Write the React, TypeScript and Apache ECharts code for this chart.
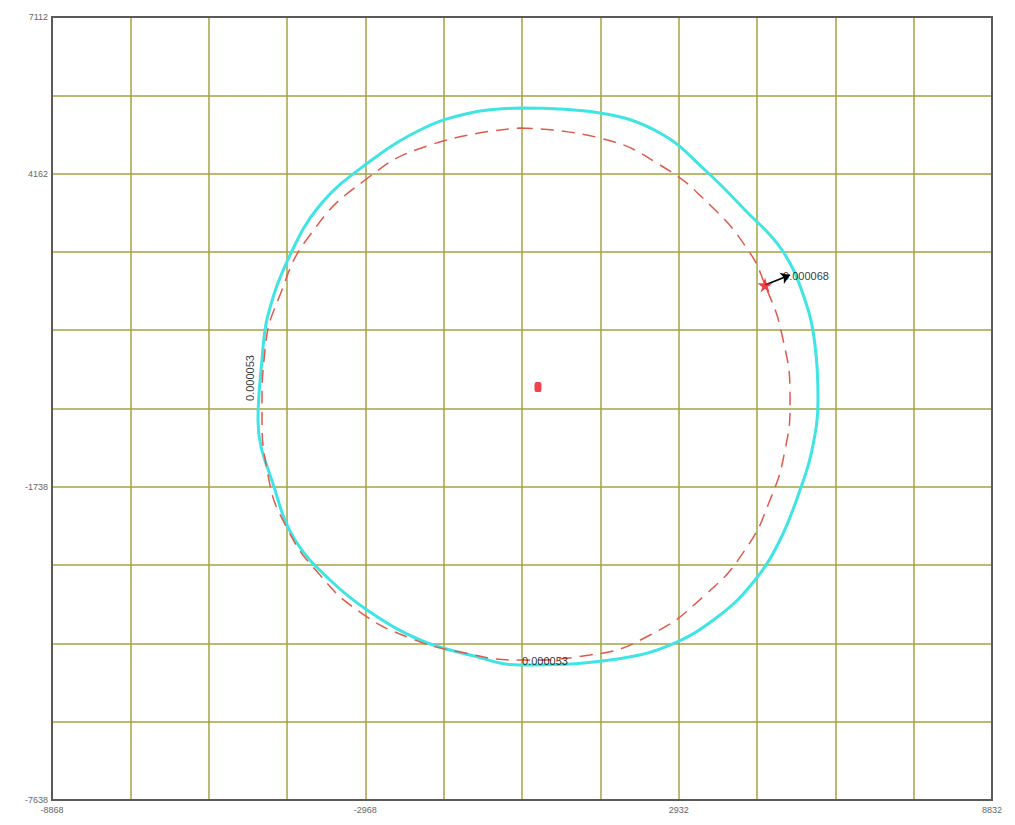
import React, { useEffect, useRef } from "react";
import * as echarts from "echarts";

const X_MIN = -8868;
const X_MAX = 8832;
const Y_MIN = -7638;
const Y_MAX = 7112;
const STEP = 1475;

// measured contour (cyan), data coordinates
const measuredX = [-55, 1451, 2581, 3428, 4181, 4878, 5311, 5499, 5556, 5443, 5217, 4840, 4370, 3711, 2769, 1639, -55, -997, -1938, -2880, -3633, -4292, -4669, -4989, -4914, -4801, -4386, -3821, -2974, -1938, -997, -55];
const measuredY = [5398, 5304, 4927, 4230, 3476, 2723, 1781, 933, -103, -1045, -1799, -2741, -3494, -4153, -4719, -5001, -5095, -4907, -4624, -4097, -3494, -2741, -1799, -480, 650, 1498, 2628, 3570, 4324, 4983, 5304, 5398];

// fitted contour (red dashed)
const fittedX = [-55, 1451, 2581, 3522, 4238, 4558, 4878, 5029, 4935, 4652, 4181, 3428, 2393, 1263, -55, -1185, -2127, -3068, -3821, -4424, -4801, -4914, -4857, -4575, -4010, -2974, -1750, -55];
const fittedY = [5021, 4832, 4324, 3570, 2723, 2063, 1121, -103, -1045, -1987, -2929, -3777, -4530, -4907, -5001, -4850, -4587, -4097, -3400, -2552, -1516, -292, 839, 1875, 3005, 4041, 4700, 5021];

const centerPoint = [283, 142];
const starPoint = [4558, 2063];
const arrowEnd = [5029, 2252];

const labelTexts = ["0.000068", "0.000053", "0.000053"];
const labelPoints = [
  [4897, 2233],
  [-5140, 311],
  [415, -5020],
];

const STAR =
  "path://M50,0 L61,35 L98,35 L68,57 L79,91 L50,70 L21,91 L32,57 L2,35 L39,35 Z";

export default function App() {
  const ref = useRef<HTMLDivElement>(null);
  useEffect(() => {
    if (!ref.current) return;
    const chart = echarts.init(ref.current, undefined, { renderer: "svg" });
    const axisLabel = {
      color: "#666666",
      fontSize: 9,
      fontFamily: "Liberation Sans",
    };
    chart.setOption({
      animation: false,
      backgroundColor: "#ffffff",
      grid: {
        left: 52,
        right: 23,
        top: 17,
        bottom: 25,
      },
      graphic: [
        {
          type: "rect",
          z: 100,
          shape: { x: 52, y: 17, width: 940, height: 783 },
          style: { fill: "none", stroke: "#5a5a5a", lineWidth: 2 },
          silent: true,
        },
      ],
      xAxis: {
        type: "value",
        min: X_MIN,
        max: X_MAX,
        interval: STEP,
        axisLine: { show: false, onZero: false },
        axisTick: { show: false },
        splitLine: { show: true, lineStyle: { color: "#a3a345", width: 1.5 } },
        axisLabel: {
          ...axisLabel,
          margin: 5,
          formatter: (v: number) => {
            const k = Math.round((v - X_MIN) / STEP);
            return k % 4 === 0 ? String(Math.round(v)) : "";
          },
        },
      },
      yAxis: {
        type: "value",
        min: Y_MIN,
        max: Y_MAX,
        interval: STEP,
        axisLine: { show: false, onZero: false },
        axisTick: { show: false },
        splitLine: { show: true, lineStyle: { color: "#a3a345", width: 1.5 } },
        axisLabel: {
          ...axisLabel,
          margin: 4,
          formatter: (v: number) => {
            const k = Math.round((v - Y_MIN) / STEP);
            return k % 4 === 0 || k === 10 ? String(Math.round(v)) : "";
          },
        },
      },
      series: [
        {
          type: "line",
          name: "fitted",
          data: fittedX.map((x, i) => [x, fittedY[i]]),
          showSymbol: false,
          smooth: 0.5,
          lineStyle: { color: "#e05a4a", width: 1.5, type: [13, 8] },
          z: 3,
        },
        {
          type: "line",
          name: "measured",
          data: measuredX.map((x, i) => [x, measuredY[i]]),
          showSymbol: false,
          smooth: 0.4,
          lineStyle: { color: "#3fe4e4", width: 3 },
          z: 2,
        },
        {
          type: "scatter",
          data: [centerPoint],
          symbol: "roundRect",
          symbolSize: [7, 10],
          itemStyle: { color: "#e8141e" },
          z: 5,
        },
        {
          type: "scatter",
          data: [starPoint],
          symbol: STAR,
          symbolSize: 15,
          itemStyle: { color: "#e8141e" },
          z: 6,
          markLine: {
            silent: true,
            symbol: ["none", "arrow"],
            symbolSize: 9,
            label: { show: false },
            lineStyle: { color: "#000000", width: 1.8, type: "solid" },
            data: [[{ coord: starPoint }, { coord: arrowEnd }]],
          },
        },
        {
          type: "scatter",
          symbolSize: 0,
          z: 7,
          data: labelPoints.map((p, i) => ({
            value: p,
            name: labelTexts[i],
            label: {
              show: true,
              formatter: labelTexts[i],
              position: i === 0 ? "right" : "inside",
              distance: 0,
              rotate: i === 1 ? 90 : 0,
              color: "#000000",
              fontSize: 11,
              fontFamily: "Liberation Sans",
            },
          })),
        },
      ],
    });
    return () => chart.dispose();
  }, []);
  return (
    <div
      ref={ref}
      style={{ position: "fixed", left: 0, top: 0, width: 1015, height: 825 }}
    />
  );
}
